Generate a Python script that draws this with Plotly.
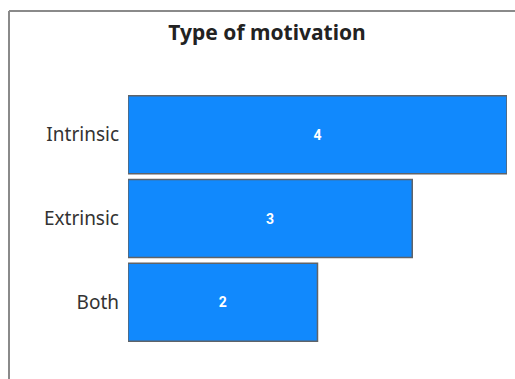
import plotly.graph_objects as go

# Motivation categories and their counts
categories = ["Intrinsic", "Extrinsic", "Both"]
counts = [4, 3, 2]

W, H = 515, 379

fig = go.Figure(
    go.Bar(
        x=counts,
        y=categories,
        orientation="h",
        marker=dict(color="#1189fd", line=dict(color="#5f6368", width=1.5)),
        text=counts,
        texttemplate="<b>%{text}</b>",
        textposition="inside",
        insidetextanchor="middle",
        textfont=dict(family="Roboto, Arial, sans-serif", size=14, color="white"),
        hoverinfo="skip",
    )
)

fig.update_layout(
    width=W,
    height=H,
    margin=dict(l=128, r=8, t=93, b=35),
    paper_bgcolor="white",
    plot_bgcolor="white",
    bargap=0.068,
    showlegend=False,
    title=dict(
        text="<b>Type of motivation</b>",
        font=dict(family="Noto Sans, sans-serif", size=21, color="#222222"),
        x=267 / W,
        xanchor="center",
        y=1 - 33 / H,
        yanchor="middle",
        xref="container",
        yref="container",
    ),
    xaxis=dict(
        range=[0, 4],
        visible=False,
        showgrid=False,
        zeroline=False,
    ),
    yaxis=dict(
        categoryorder="array",
        categoryarray=categories,
        autorange="reversed",
        showgrid=False,
        zeroline=False,
        showline=False,
        ticks="",
        ticklabelstandoff=8,
        tickfont=dict(family="Noto Sans, sans-serif", size=19, color="#333333"),
    ),
    shapes=[
        # outer frame: top and left edges
        dict(type="line", xref="paper", yref="paper",
             x0=(9 - 128) / (W - 136), x1=1.5,
             y0=1 + (93 - 11) / (H - 128), y1=1 + (93 - 11) / (H - 128),
             line=dict(color="#8a8a8a", width=2)),
        dict(type="line", xref="paper", yref="paper",
             x0=(9 - 128) / (W - 136), x1=(9 - 128) / (W - 136),
             y0=1 + (93 - 11) / (H - 128), y1=-0.5,
             line=dict(color="#8a8a8a", width=2)),
    ],
)

fig.write_html("out.html")
